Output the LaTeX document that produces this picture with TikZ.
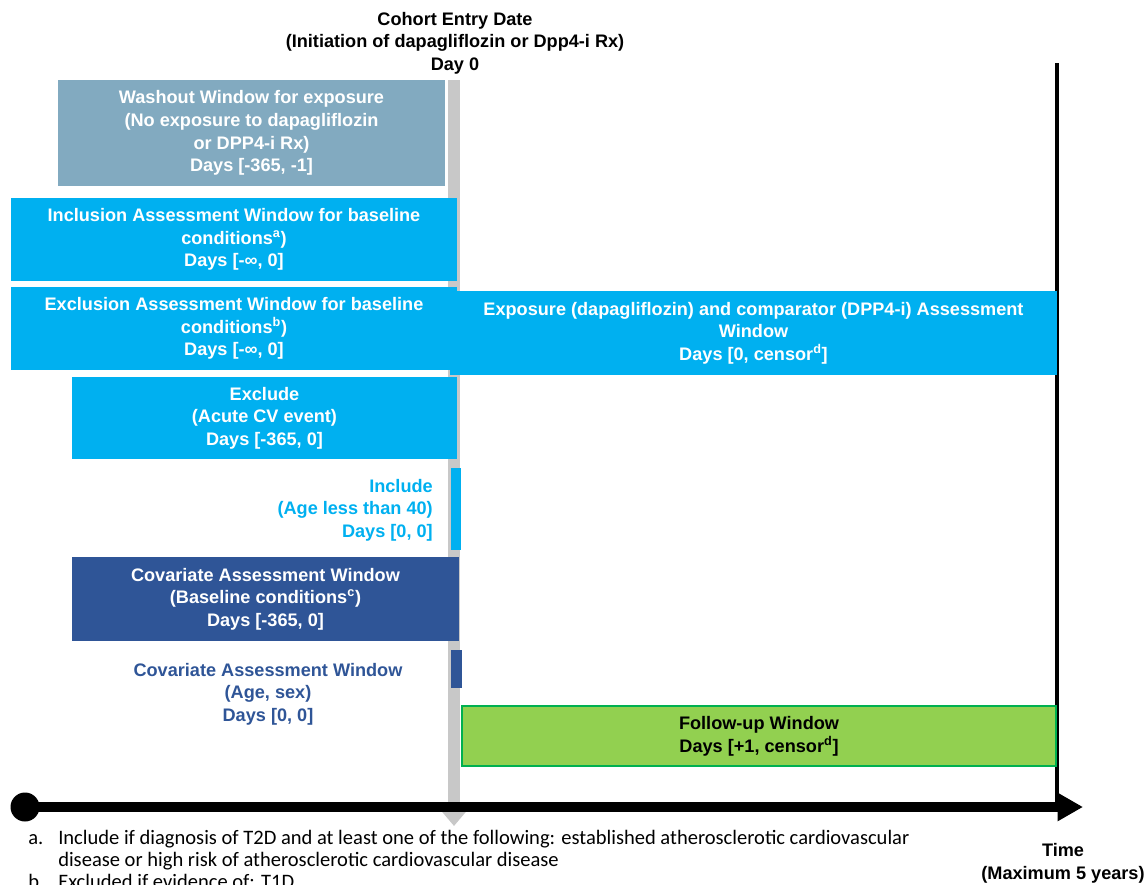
\documentclass[tikz,border=0pt]{standalone}
\usepackage{fontspec}
\setmainfont{Liberation Sans}
\newfontfamily\calib{Carlito}
\usetikzlibrary{arrows.meta}
\definecolor{cyanbox}{RGB}{0,176,240}
\definecolor{washc}{RGB}{130,170,192}
\definecolor{covc}{RGB}{47,85,151}
\definecolor{fugreen}{RGB}{146,208,80}
\definecolor{fuborder}{RGB}{0,176,80}
\definecolor{barg}{RGB}{200,200,200}
\begin{document}
\begin{tikzpicture}[x=0.75pt,y=-0.75pt,
  boxfont/.style={font=\bfseries\fontsize{13.6}{17}\selectfont},
  winbox/.style={boxfont, draw=none, inner sep=0pt, text=white, align=center},
  bar/.style={draw=none, inner sep=0pt},
  lbl/.style={boxfont, inner sep=0pt},
  fn/.style={font=\calib\fontsize{15.4}{16.5}\selectfont, inner sep=0pt}]
\useasboundingbox (0,0) rectangle (1147,885);
\clip (0,0) rectangle (1147,885);
% header
\node[lbl, align=center] (hdr) at (455,43) {Cohort Entry Date\\(Initiation of dapagliflozin or Dpp4-i Rx)\\Day 0};
% gray day-0 bar
\coordinate (gtop) at (454,80);
\coordinate (gbot) at (454,826);
\draw[barg, line width=9pt, -{Triangle[length=10.5pt, width=17pt]}] (gtop) -- (gbot);
% black end line
\coordinate (etop) at (1057,63);
\coordinate (ebot) at (1057,806);
\draw[black, line width=2.4pt] (etop) -- (ebot);
% windows
\node[winbox, fill=washc, minimum width=387*0.75pt, minimum height=106*0.75pt] (wash) at (251.5,133)
  {Washout Window for exposure\\(No exposure to dapagliflozin\\or DPP4-i Rx)\\Days [-365, -1]};
\node[winbox, fill=cyanbox, minimum width=446*0.75pt, minimum height=83*0.75pt] (incl) at (234,239.5)
  {Inclusion Assessment Window for baseline\\conditions\textsuperscript{a})\\Days [-∞, 0]};
\node[winbox, fill=cyanbox, minimum width=446*0.75pt, minimum height=83*0.75pt] (excl) at (234,328.5)
  {Exclusion Assessment Window for baseline\\conditions\textsuperscript{b})\\Days [-∞, 0]};
\node[winbox, fill=cyanbox, minimum width=607*0.75pt, minimum height=84*0.75pt] (expo) at (753.5,333)
  {Exposure (dapagliflozin) and comparator (DPP4-i) Assessment\\Window\\Days [0, censor\textsuperscript{d}]};
\node[winbox, fill=cyanbox, minimum width=385*0.75pt, minimum height=82*0.75pt] (exclude) at (264.5,418)
  {Exclude\\(Acute CV event)\\Days [-365, 0]};
\node[bar, fill=cyanbox, minimum width=10*0.75pt, minimum height=82*0.75pt] (inclbar) at (456,509) {};
\node[lbl, text=cyanbox, align=right, anchor=east] (incltxt) at (433,510)
  {Include\\(Age less than 40)\\Days [0, 0]};
\node[winbox, fill=covc, minimum width=387*0.75pt, minimum height=84*0.75pt] (cov) at (265.5,599)
  {Covariate Assessment Window\\(Baseline conditions\textsuperscript{c})\\Days [-365, 0]};
\node[bar, fill=covc, minimum width=11*0.75pt, minimum height=38*0.75pt] (covbar) at (456.5,669) {};
\node[lbl, text=covc, align=center] (covtxt) at (268,694)
  {Covariate Assessment Window\\(Age, sex)\\Days [0, 0]};
\node[winbox, text=black, fill=fugreen, draw=fuborder, line width=0.8pt, minimum width=594*0.75pt, minimum height=60*0.75pt] (fu) at (759,736)
  {Follow-up Window\\Days [+1, censor\textsuperscript{d}]};
% time axis
\node[circle, fill=black, inner sep=0pt, minimum size=29*0.75pt] (start) at (25,807) {};
\coordinate (tip) at (1083,807);
\draw[black, line width=7pt, -{Triangle[length=19pt, width=20pt]}] (start.center) -- (tip);
\node[lbl, align=center] (time) at (1063,863) {Time\\(Maximum 5 years)};
% footnotes
\node[fn, anchor=base west] (fna) at (28,844) {a.};
\node[fn, anchor=base west] (fnatxt) at (58,844)
  {Include if diagnosis of T2D and at least one of the following: established atherosclerotic cardiovascular};
\node[fn, anchor=base west] (fnatxt2) at (58,866) {disease or high risk of atherosclerotic cardiovascular disease};
\node[fn, anchor=base west] (fnb) at (28,888) {b.};
\node[fn, anchor=base west] (fnbtxt) at (58,888) {Excluded if evidence of: T1D};
\end{tikzpicture}
\end{document}
